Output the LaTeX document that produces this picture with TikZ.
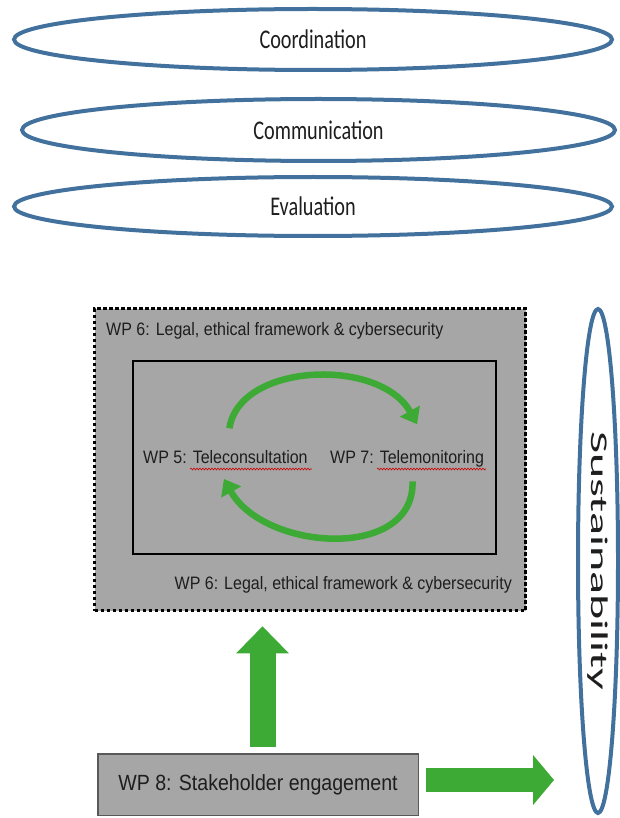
\documentclass[tikz,border=0pt]{standalone}
\usepackage{fontspec}
\usepackage{tikz}
\usetikzlibrary{shapes.geometric,arrows.meta,decorations.pathmorphing,positioning}
\newfontfamily\calfont[FakeStretch=0.75]{Carlito}
\newfontfamily\tallcal[FakeStretch=2.0]{Carlito}
\newfontfamily\arialn[FakeStretch=0.89]{Liberation Sans}
\definecolor{ringblue}{HTML}{41719C}
\definecolor{boxgray}{HTML}{A6A6A6}
\definecolor{leaf}{HTML}{3DAA35}
\definecolor{inktext}{HTML}{1E1E1E}

\begin{document}
\begin{tikzpicture}[x=1pt, y=-1pt,
  ring/.style={ellipse, draw=ringblue, line width=4pt, inner sep=0pt, text=inktext,
    font=\calfont\fontsize{27}{32}\selectfont},
  wptext/.style={inner sep=0pt, text=inktext, font=\arialn\fontsize{18}{21}\selectfont},
  cyclearrow/.style={leaf, line width=6.5pt, -{Triangle[length=15pt,width=22pt]}},
  blockarrow/.style={leaf, line width=26pt, -{Triangle[length=27pt,width=51pt]}},
  spell/.style={red!80!black, line width=0.6pt, decorate,
    decoration={snake, amplitude=0.9pt, segment length=3pt}}]
  \useasboundingbox (0,0) rectangle (619,818);

  % Rings
  \node[ring, minimum width=598pt, minimum height=61pt] (coord) at (313,39.5) {Coordination};
  \node[ring, minimum width=593pt, minimum height=62pt] (comm) at (318.5,130) {Communication};
  \node[ring, minimum width=598pt, minimum height=59pt] (eval) at (313,206.5) {Evaluation};
  \node[ring, rotate=-90, minimum width=504pt, minimum height=40pt,
    font=\tallcal\fontsize{24}{28}\selectfont] (sust) at (598,561) {Sustainability};

  % Work packages
  \node[fill=boxgray, draw=black, line width=3.5pt, dash pattern=on 3.5pt off 2.5pt,
    minimum width=431pt, minimum height=302pt] (legal) at (310,459.5) {};
  \node[draw=black, line width=2pt, minimum width=363pt, minimum height=193pt] (core) at (314.5,457.5) {};
  \node[wptext, anchor=base west] (legaltop) at (106,335) {WP 6: Legal, ethical framework \& cybersecurity};
  \node[wptext, anchor=base east] (legalbot) at (512,589) {WP 6: Legal, ethical framework \& cybersecurity};
  \node[wptext, anchor=base west] (wp5) at (143,463.5) {WP 5: Teleconsultation};
  \node[wptext, anchor=base west] (wp7) at (330,463.5) {WP 7: Telemonitoring};
  \node[fill=boxgray, draw=black!65, line width=1.5pt, minimum width=320.5pt, minimum height=61.5pt,
    wptext, font=\arialn\fontsize{22}{26}\selectfont] (wp8) at (258,784.5) {WP 8: Stakeholder engagement};

  % Spelling marks
  \draw[spell] ([xshift=47pt,yshift=-5.5pt]wp5.base west) -- ([xshift=4pt,yshift=-5.5pt]wp5.base east);
  \draw[spell] ([xshift=47pt,yshift=-5.5pt]wp7.base west) -- ([xshift=2pt,yshift=-5.5pt]wp7.base east);

  % Cycle between teleconsultation and telemonitoring
  \draw[cyclearrow] ([xshift=4pt,yshift=22pt]wp5.north) .. controls +(10,-66) and +(-37,-67) .. ([xshift=10pt,yshift=26pt]wp7.north);
  \draw[cyclearrow] ([xshift=5.5pt,yshift=-14pt]wp7.south) .. controls +(2,80) and +(40,72) .. ([xshift=-1.5pt,yshift=-15pt]wp5.south);

  % Stakeholder arrows
  \coordinate (upfoot) at ([xshift=4.5pt,yshift=6pt]wp8.north);
  \draw[blockarrow, shorten >=14pt] (upfoot) -- (upfoot |- legal.south);
  \coordinate (rightfoot) at ([xshift=7pt,yshift=4.5pt]wp8.east);
  \draw[blockarrow, line width=24pt, -{Triangle[length=21pt,width=49pt]}] (rightfoot) -- ++(128,0);
\end{tikzpicture}
\end{document}
